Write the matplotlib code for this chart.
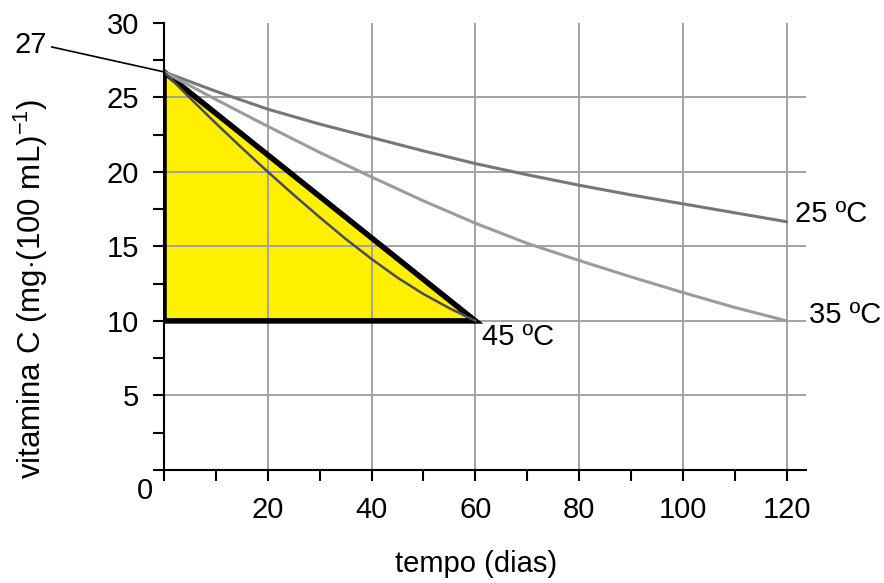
import numpy as np
import matplotlib.pyplot as plt
from matplotlib.patches import Polygon

plt.rcParams['font.family'] = ['Liberation Sans', 'DejaVu Sans']
plt.rcParams['mathtext.fontset'] = 'custom'
plt.rcParams['mathtext.rm'] = 'Liberation Sans'
plt.rcParams['mathtext.it'] = 'Liberation Sans'

# values
days_25 = [0, 10, 20, 30, 40, 50, 60, 70, 80, 90, 100, 110, 120]
vitc_25 = [26.7, 25.4, 24.2, 23.2, 22.3, 21.4, 20.55, 19.8, 19.1, 18.45, 17.85, 17.25, 16.65]
days_35 = [0, 10, 20, 30, 40, 50, 60, 70, 80, 90, 100, 110, 120]
vitc_35 = [26.7, 24.85, 23.05, 21.3, 19.65, 18.05, 16.55, 15.2, 14.05, 12.95, 11.9, 10.9, 10.0]
days_45 = [0, 5, 10, 15, 20, 25, 30, 35, 40, 45, 50, 55, 60]
vitc_45 = [26.7, 24.95, 23.25, 21.6, 20.0, 18.45, 16.95, 15.5, 14.15, 12.9, 11.8, 10.85, 10.0]

tri_x = [0, 0, 60]
tri_y = [26.7, 10, 10]

curve_labels = ['25 ºC', '35 ºC', '45 ºC']
x_ticks = [0, 10, 20, 30, 40, 50, 60, 70, 80, 90, 100, 110, 120]
x_ticklabels = ['', '', '20', '', '40', '', '60', '', '80', '', '100', '', '120']
y_ticks = [0, 2.5, 5, 7.5, 10, 12.5, 15, 17.5, 20, 22.5, 25, 27.5, 30]
y_ticklabels = ['', '', '5', '', '10', '', '15', '', '20', '', '25', '', '30']

fs = 21
fig = plt.figure(figsize=(8.84, 5.83), dpi=100)
ax = fig.add_axes([164/884, 1-470/583, 642/884, 447.3/583])
ax.set_xlim(0, 123.7)
ax.set_ylim(0, 30)

# yellow triangle under the grid
ax.add_patch(Polygon(np.column_stack([tri_x, tri_y]), closed=True,
                     facecolor='#fff000', edgecolor='none', zorder=1))

# grid
for v in [5, 10, 15, 20, 25]:
    ax.axhline(v, color='#a3a3a3', lw=1.4, zorder=2)
for v in [20, 40, 60, 80, 100, 120]:
    ax.axvline(v, color='#a3a3a3', lw=1.4, zorder=2)

# triangle outline
ax.add_patch(Polygon(np.column_stack([tri_x, tri_y]), closed=True,
                     facecolor='none', edgecolor='black', lw=4,
                     joinstyle='miter', zorder=3))

ax.plot(days_25, vitc_25, color='#777777', lw=2.2, zorder=4, solid_capstyle='round')
ax.plot(days_35, vitc_35, color='#9c9c9c', lw=2.2, zorder=4, solid_capstyle='round')
ax.plot(days_45, vitc_45, color='#4a4a5e', lw=1.8, zorder=5)

ax.text(121.6, 17.2, curve_labels[0], fontsize=fs, va='center', ha='left', clip_on=False)
ax.text(124.3, 10.4, curve_labels[1], fontsize=fs, va='center', ha='left', clip_on=False)
ax.text(61.3, 8.9, curve_labels[2], fontsize=fs, va='center', ha='left', clip_on=False)

# 27 leader
ax.plot([-21.6, 0], [28.37, 26.7], color='black', lw=1.2, clip_on=False, zorder=6)
ax.text(-22.6, 28.5, '27', fontsize=fs, va='center', ha='right', clip_on=False)
ax.text(-3.7, -1.4, '0', fontsize=fs, va='center', ha='center', clip_on=False)

for s in ['top', 'right']:
    ax.spines[s].set_visible(False)
for s in ['left', 'bottom']:
    ax.spines[s].set_linewidth(1.5)
    ax.spines[s].set_zorder(6)

ax.set_xticks(x_ticks)
ax.set_xticklabels(x_ticklabels)
ax.set_yticks(y_ticks)
ax.set_yticklabels(y_ticklabels)
ax.tick_params(axis='both', direction='out', length=8, width=1.5, labelsize=fs)
ax.tick_params(axis='x', pad=10.5)
ax.tick_params(axis='y', pad=10)

fig.text(476/884, 1-564/583, 'tempo (dias)', fontsize=fs, ha='center', va='center')
fig.text(31/884, 1-289/583, r'vitamina C (mg$\cdot$(100 mL)$^{-1}$)', fontsize=22.5,
         rotation=90, ha='center', va='center')

fig.savefig('out.png', dpi=100)
